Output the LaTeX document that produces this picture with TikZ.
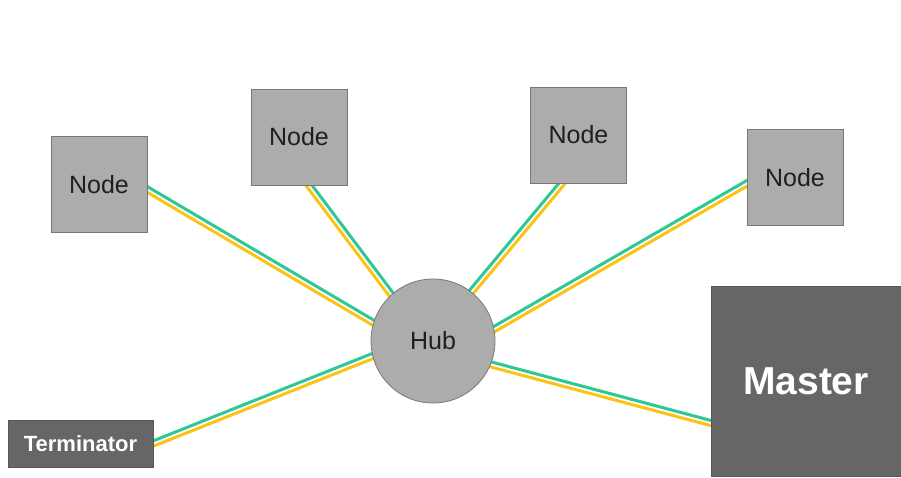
\documentclass[tikz,border=0pt]{standalone}
\usepackage{fontspec}
\setmainfont{Liberation Sans}
\usetikzlibrary{calc,backgrounds}
\definecolor{wteal}{RGB}{46,200,150}
\definecolor{wyellow}{RGB}{250,196,20}
\definecolor{lgray}{RGB}{172,172,172}
\definecolor{lborder}{RGB}{120,120,120}
\definecolor{dgray}{RGB}{102,102,102}
\tikzset{
  nodebox/.style={rectangle, fill=lgray, draw=lborder, line width=0.8pt,
    minimum size=96pt, inner sep=0pt, font=\fontsize{25}{30}\selectfont, text=black!88},
  hubnode/.style={circle, fill=lgray, draw=lborder, line width=0.8pt,
    minimum size=124pt, inner sep=0pt, font=\fontsize{25}{30}\selectfont, text=black!88},
  darkbox/.style={rectangle, fill=dgray, draw=dgray!85!black, line width=0.6pt,
    inner sep=0pt, text=white},
  wire/.style={line width=3pt, shorten <=-4pt, shorten >=-4pt},
}
\newcommand\wirepair[4]{%
  \draw[wire, wteal] ($(#1)!2.5pt!#3:(#2)$) -- ($(#2)!2.5pt!#4:(#1)$);
  \draw[wire, wyellow] ($(#1)!2.5pt!#4:(#2)$) -- ($(#2)!2.5pt!#3:(#1)$);
}
\begin{document}
\begin{tikzpicture}[x=1pt,y=-1pt]
\useasboundingbox (0,0) rectangle (901,477);
\node[nodebox] (n1) at (99,184.5) {Node};
\node[nodebox] (n2) at (299,137) {Node};
\node[nodebox] (n3) at (578.5,135) {Node};
\node[nodebox] (n4) at (795,177.5) {Node};
\node[hubnode] (hub) at (433,341) {Hub};
\node[darkbox, minimum width=190pt, minimum height=190pt,
  font=\fontsize{39}{44}\bfseries] (master) at (806,381) {Master};
\node[darkbox, minimum width=145pt, minimum height=47pt,
  font=\fontsize{22}{26}\bfseries] (term) at (80.5,443.5) {Terminator};
\coordinate (e1) at ($(n1.east)+(0,5)$);
\coordinate (e2) at ($(n2.south)+(10,0)$);
\coordinate (e3) at ($(n3.south)+(-16.5,0)$);
\coordinate (e4) at ($(n4.west)+(0,6)$);
\coordinate (em) at ($(master.west)+(0,42)$);
\coordinate (et) at (term.east);
\begin{scope}[on background layer]
  \wirepair{hub.163}{e1}{-90}{90}
  \wirepair{hub.132}{e2}{-90}{90}
  \wirepair{hub.52}{e3}{90}{-90}
  \wirepair{hub.11.6}{e4}{90}{-90}
  \wirepair{hub.-22.5}{em}{90}{-90}
  \wirepair{hub.194}{et}{-90}{90}
\end{scope}
\end{tikzpicture}
\end{document}
